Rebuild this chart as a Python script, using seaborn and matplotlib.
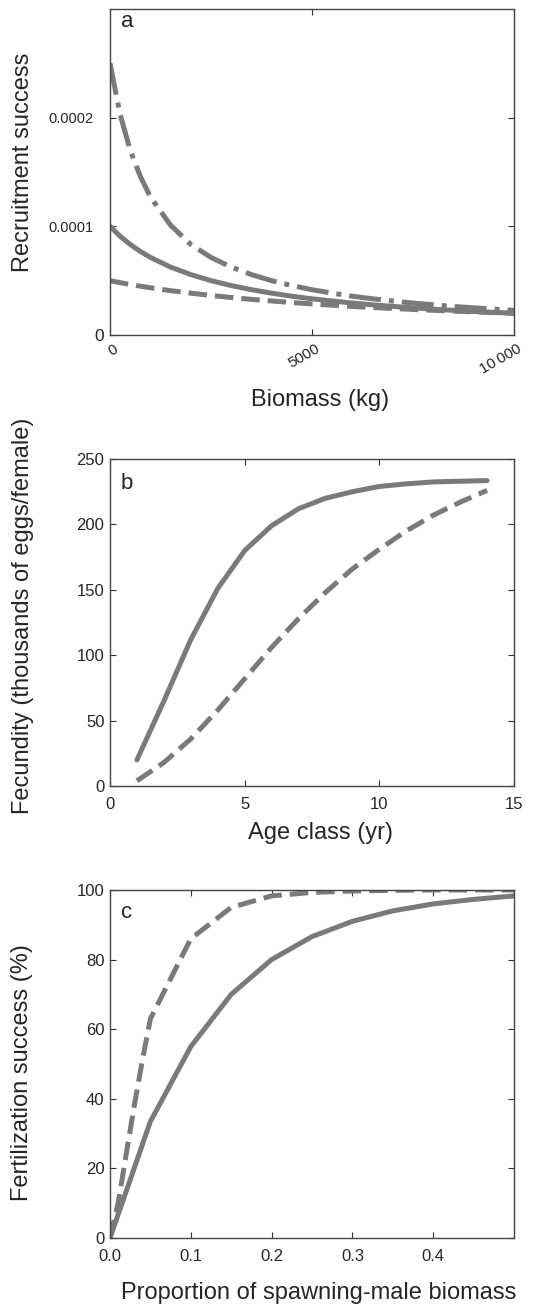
import matplotlib
matplotlib.use("Agg")
import matplotlib.pyplot as plt
import matplotlib.transforms as mtransforms
import seaborn as sns

# panel a: recruitment success vs biomass (values x 1e-5)
biomass = [0, 250, 500, 750, 1000, 1500, 2000, 2500, 3000, 3500, 4000, 4500,
           5000, 5500, 6000, 6500, 7000, 7500, 8000, 8500, 9000, 9500, 10000]
recruit_solid = [10.0, 9.09, 8.33, 7.69, 7.14, 6.25, 5.56, 5.0, 4.55, 4.17, 3.85, 3.57,
                 3.33, 3.13, 2.94, 2.78, 2.63, 2.5, 2.38, 2.27, 2.17, 2.08, 2.0]
recruit_dashed = [5.0, 4.82, 4.65, 4.49, 4.35, 4.08, 3.85, 3.64, 3.45, 3.28, 3.13, 2.99,
                  2.86, 2.74, 2.63, 2.53, 2.44, 2.35, 2.27, 2.2, 2.13, 2.06, 2.0]
recruit_dashdot = [25.0, 20.3, 17.0, 14.6, 12.7, 10.1, 8.33, 7.14, 6.25, 5.56, 5.0, 4.55,
                   4.17, 3.85, 3.57, 3.33, 3.13, 2.94, 2.78, 2.63, 2.5, 2.38, 2.27]

# panel b: fecundity by age class
ages = [1, 2, 3, 4, 5, 6, 7, 8, 9, 10, 11, 12, 13, 14]
fec_solid = [20, 65, 112, 151, 180, 199, 212, 220, 225, 229, 231, 232.5, 233, 233.5]
fec_dashed = [4, 18, 36, 58, 82, 106, 128, 148, 166, 181, 195, 207, 217, 226]

# panel c: fertilization success vs male biomass proportion
prop_solid = [0.0, 0.05, 0.1, 0.15, 0.2, 0.25, 0.3, 0.35, 0.4, 0.45, 0.5]
fert_solid = [0, 33.5, 55, 70, 80, 86.6, 91, 94, 96, 97.3, 98.3]
prop_dashed = [0.0, 0.01, 0.02, 0.03, 0.04, 0.05, 0.1, 0.15, 0.2, 0.25, 0.3, 0.35, 0.4, 0.5]
fert_dashed = [0, 10, 24, 38, 51, 63, 86, 95, 98.3, 99.3, 99.7, 99.9, 100, 100]

sns.set_style("ticks")
plt.rcParams['font.family'] = ['Liberation Sans', 'DejaVu Sans']

grey = '#7a7a7a'
lw = 3.6

fig = plt.figure(figsize=(5.39, 13.04), dpi=100)
ax_a = fig.add_axes([0.2041, 0.7431, 0.7495, 0.25])
ax_b = fig.add_axes([0.2041, 0.3972, 0.7495, 0.2508])
ax_c = fig.add_axes([0.2041, 0.0506, 0.7495, 0.2669])

for ax in (ax_a, ax_b, ax_c):
    ax.tick_params(direction='in', top=True, right=True, length=4, width=0.8,
                   labelsize=12, color='#333333')
    ax.tick_params(axis='x', pad=8)
    ax.tick_params(axis='y', pad=4)
    for sp in ax.spines.values():
        sp.set_color('#444444')
        sp.set_linewidth(1.0)

# ---- panel a
ra = [v * 1e-5 for v in recruit_solid]
rd = [v * 1e-5 for v in recruit_dashed]
rdd = [v * 1e-5 for v in recruit_dashdot]
sns.lineplot(x=biomass, y=rdd, ax=ax_a, color=grey, linewidth=lw, linestyle='-.')
sns.lineplot(x=biomass, y=ra, ax=ax_a, color=grey, linewidth=lw, linestyle='-')
sns.lineplot(x=biomass, y=rd, ax=ax_a, color=grey, linewidth=lw, linestyle='--')
ax_a.set_xlim(0, 10000)
ax_a.set_ylim(0, 0.0003)
ax_a.set_xticks([0, 5000, 10000])
ax_a.set_xticklabels(['0', '5000', '10\u2009000'])
ax_a.set_yticks([0, 0.0001, 0.0002])
ax_a.set_yticklabels(['0', '0.0001', '0.0002'])
ax_a.tick_params(axis='y', labelsize=10.5)
ax_a.tick_params(axis='x', labelsize=11, pad=5)
offset = mtransforms.ScaledTranslation(0.03, 0.0, fig.dpi_scale_trans)
for lab in ax_a.get_xticklabels():
    lab.set_rotation(30)
    lab.set_ha('right')
    lab.set_va('top')
    lab.set_rotation_mode('anchor')
    lab.set_transform(lab.get_transform() + offset)
# long y labels sit further left in the original, the zero is larger
ax_a.get_yticklabels()[0].set_fontsize(12.5)
shift = mtransforms.ScaledTranslation(-0.11, 0.0, fig.dpi_scale_trans)
for lab in ax_a.get_yticklabels()[1:]:
    lab.set_transform(lab.get_transform() + shift)
ax_a.set_ylabel('Recruitment success', fontsize=17, va='center')
ax_a.set_xlabel('Biomass (kg)', fontsize=17)
ax_a.yaxis.set_label_coords(-0.215, 0.53)
ax_a.xaxis.set_label_coords(0.52, -0.199)
ax_a.xaxis.label.set_va('center')
ax_a.text(0.027, 0.945, 'a', transform=ax_a.transAxes, fontsize=16, va='baseline')

# ---- panel b
sns.lineplot(x=ages, y=fec_solid, ax=ax_b, color=grey, linewidth=lw, linestyle='-')
sns.lineplot(x=ages, y=fec_dashed, ax=ax_b, color=grey, linewidth=lw, linestyle='--')
ax_b.set_xlim(0, 15)
ax_b.set_ylim(0, 250)
ax_b.set_xticks([0, 5, 10, 15])
ax_b.set_yticks([0, 50, 100, 150, 200, 250])
ax_b.set_ylabel('Fecundity (thousands of eggs/female)', fontsize=17, va='center')
ax_b.set_xlabel('Age class (yr)', fontsize=17)
ax_b.yaxis.set_label_coords(-0.215, 0.52)
ax_b.xaxis.set_label_coords(0.52, -0.144)
ax_b.xaxis.label.set_va('center')
ax_b.text(0.025, 0.908, 'b', transform=ax_b.transAxes, fontsize=16, va='baseline')

# ---- panel c
sns.lineplot(x=prop_solid, y=fert_solid, ax=ax_c, color=grey, linewidth=lw, linestyle='-')
sns.lineplot(x=prop_dashed, y=fert_dashed, ax=ax_c, color=grey, linewidth=lw, linestyle='--')
ax_c.set_xlim(0, 0.5)
ax_c.set_ylim(0, 100)
ax_c.set_xticks([0.0, 0.1, 0.2, 0.3, 0.4])
ax_c.set_xticklabels(['0.0', '0.1', '0.2', '0.3', '0.4'])
ax_c.set_yticks([0, 20, 40, 60, 80, 100])
ax_c.set_ylabel('Fertilization success (%)', fontsize=17, va='center')
ax_c.set_xlabel('Proportion of spawning-male biomass', fontsize=17)
ax_c.yaxis.set_label_coords(-0.218, 0.475)
ax_c.xaxis.set_label_coords(0.517, -0.158)
ax_c.xaxis.label.set_va('center')
ax_c.text(0.027, 0.92, 'c', transform=ax_c.transAxes, fontsize=16, va='baseline')

fig.savefig('out.png', dpi=100)
